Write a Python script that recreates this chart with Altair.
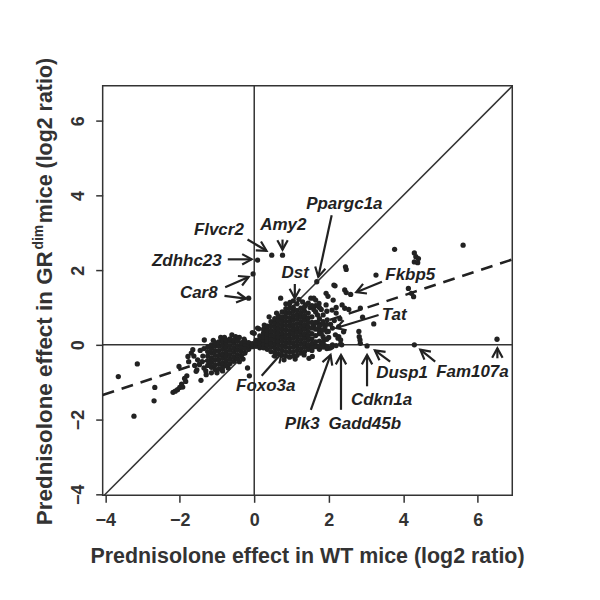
import math
import altair as alt
import pandas as pd

# ---------------- data ----------------
# far left / left-tail points (WT effect, GRdim effect)
left_far = [(-3.65, -0.85), (-3.14, -0.51), (-3.23, -1.91), (-2.67, -1.14), (-2.69, -1.5),
            (-2.02, -0.58), (-2.18, -1.27), (-2.12, -1.24), (-2.06, -1.2), (-2.0, -1.14),
            (-1.92, -1.13), (-1.84, -0.98), (-1.81, -0.83), (-1.87, -0.9), (-1.95, -1.05),
            (-1.78, -0.31), (-1.76, -0.45), (-1.69, -0.22), (-1.65, -0.13), (-1.6, -0.55),
            (-1.56, -0.71), (-1.54, -0.67), (-1.52, -0.4), (-1.47, -0.53), (-1.43, -0.95),
            (-1.45, -0.15), (-1.38, -0.3), (-1.35, -0.62), (-1.34, 0.13), (-1.29, -0.8),
            (-1.15, -0.75), (-0.9, 0.2), (-0.6, 0.27), (-0.4, 0.2), (-0.27, 0.15),
            (-0.18, -0.62), (-0.13, -0.83), (-1.1, 0.12), (-0.8, 0.2), (-0.5, 0.22),
            (-1.3, -0.7), (-1.0, -0.75), (-0.7, -0.62), (-0.4, -0.45), (-0.3, -0.38),
            (-1.4, -0.45), (-1.35, -0.1), (-1.62, -0.3), (-0.85, -0.7)]

# dense left cluster, column by column
left_blob_x = [-1.25, -1.15, -1.05, -0.95, -0.85, -0.75, -0.65, -0.55, -0.45, -0.35, -0.25, -0.15, -0.05]
left_blob_y = [
    [-0.55, -0.42, -0.3, -0.18, -0.06],
    [-0.6, -0.47, -0.35, -0.22, -0.1, 0.0],
    [-0.66, -0.53, -0.4, -0.28, -0.16, -0.04, 0.06],
    [-0.65, -0.52, -0.4, -0.28, -0.16, -0.04, 0.08],
    [-0.6, -0.48, -0.36, -0.24, -0.12, 0.0, 0.1],
    [-0.55, -0.43, -0.31, -0.19, -0.07, 0.05, 0.13],
    [-0.5, -0.38, -0.26, -0.14, -0.02, 0.1, 0.16],
    [-0.44, -0.32, -0.2, -0.08, 0.04, 0.13],
    [-0.38, -0.26, -0.14, -0.02, 0.1],
    [-0.3, -0.18, -0.06, 0.06],
    [-0.22, -0.1, 0.02, 0.1],
    [-0.12, -0.02, 0.06],
    [-0.05, 0.03],
]

# points along zero around the origin
near_zero = [(-0.3, 0.0), (-0.2, 0.0), (-0.1, 0.02), (0.0, 0.0), (0.1, 0.0), (0.2, -0.02),
             (0.3, 0.0), (0.4, 0.02), (0.05, 0.1), (0.15, -0.08), (0.0, 0.31), (0.12, 0.43),
             (0.27, 0.53), (0.09, 0.45), (-0.05, 0.33)]

# dense right cluster, column by column
right_blob_x = [0.05, 0.15, 0.25, 0.35, 0.45, 0.55, 0.65, 0.75, 0.85, 0.95, 1.05, 1.15,
                1.25, 1.35, 1.45, 1.55, 1.65, 1.75, 1.85, 1.95]
right_blob_y = [
    [-0.04, 0.04, 0.12],
    [-0.05, 0.05, 0.15, 0.24],
    [-0.08, 0.02, 0.12, 0.22, 0.32, 0.42],
    [-0.12, 0.0, 0.1, 0.2, 0.3, 0.4, 0.5],
    [-0.18, -0.06, 0.05, 0.16, 0.27, 0.38, 0.5, 0.62],
    [-0.2, -0.08, 0.03, 0.14, 0.25, 0.36, 0.47, 0.58, 0.7],
    [-0.24, -0.12, 0.0, 0.11, 0.22, 0.33, 0.44, 0.55, 0.66, 0.78],
    [-0.28, -0.15, -0.03, 0.09, 0.2, 0.31, 0.42, 0.53, 0.64, 0.75, 0.88],
    [-0.3, -0.18, -0.06, 0.06, 0.17, 0.28, 0.4, 0.52, 0.63, 0.74, 0.85, 0.97],
    [-0.33, -0.2, -0.08, 0.04, 0.15, 0.27, 0.38, 0.5, 0.62, 0.73, 0.85, 0.98, 1.1],
    [-0.3, -0.18, -0.06, 0.06, 0.18, 0.3, 0.42, 0.54, 0.66, 0.78, 0.9, 1.0],
    [-0.28, -0.15, -0.03, 0.09, 0.21, 0.33, 0.45, 0.57, 0.69, 0.8, 0.92],
    [-0.22, -0.1, 0.02, 0.14, 0.26, 0.38, 0.5, 0.62, 0.74, 0.86, 0.98],
    [-0.18, -0.06, 0.06, 0.18, 0.3, 0.42, 0.54, 0.66, 0.78, 0.9, 1.02],
    [-0.12, 0.0, 0.12, 0.24, 0.36, 0.48, 0.6, 0.72, 0.85],
    [-0.08, 0.04, 0.16, 0.3, 0.45, 0.6, 0.75, 1.05],
    [-0.05, 0.08, 0.25, 0.42, 0.6, 0.88],
    [-0.04, 0.1, 0.3, 0.5, 0.7, 1.0],
    [-0.06, 0.05, 0.22, 0.4, 0.62, 0.8],
    [-0.05, 0.15, 0.35, 0.55, 0.9],
]

# scattered points on the right and the labelled genes
right_sparse = [(1.65, 1.2), (1.74, 1.11), (1.52, 1.25), (1.93, 1.38), (1.98, 1.3), (2.14, 1.6),
                (1.93, 1.07), (2.09, 0.93), (2.2, 0.85), (2.36, 1.07), (2.43, 0.98), (2.54, 0.95),
                (1.96, 0.67), (2.05, 0.55), (2.27, 0.49), (1.99, 0.36), (2.18, 0.27), (2.25, 0.18),
                (1.87, 0.13), (1.93, -0.04), (2.32, 0.02), (2.27, 0.22), (2.32, 0.13), (2.35, 0.0),
                (2.85, 0.98), (2.91, 0.74), (3.21, 0.56), (2.81, 0.36), (2.82, 0.22), (2.84, 0.13),
                (2.85, 0.04), (3.03, -0.03), (4.3, 0.0), (6.52, 0.15), (2.43, 1.47), (2.47, 1.4),
                (2.59, 1.35), (2.17, 1.58), (3.27, 1.87), (4.14, 1.51), (4.22, 1.38), (4.28, 1.29),
                (2.45, 2.09), (2.47, 2.02), (3.77, 2.56), (5.61, 2.67), (4.3, 2.46), (4.34, 2.36),
                (4.41, 2.31), (4.3, 2.22), (4.39, 2.2), (0.71, 1.25), (0.96, 1.14), (1.68, 1.69),
                (0.09, 2.27), (0.47, 2.4), (0.76, 2.4), (-0.03, 1.9), (-0.15, 1.25), (1.34, -0.27),
                (1.47, -0.36), (1.56, -0.31), (2.0, -0.09), (2.09, -0.05), (1.6, 1.25), (1.38, 1.07),
                (2.3, 0.7), (1.8, 0.95), (1.7, 0.8), (1.85, 0.55), (1.75, 0.4), (1.5, -0.05),
                (1.6, 0.0), (1.7, -0.04), (1.8, 0.0), (1.9, -0.03), (2.1, 0.0), (2.2, -0.02),
                (1.55, -0.15), (1.75, -0.12), (1.95, -0.1), (2.05, -0.08),
                (1.5, 1.0), (1.6, 0.95), (1.65, 1.05), (1.7, 0.6), (1.8, 0.3), (1.9, 0.45),
                (2.0, 0.2), (2.1, 0.45), (2.15, 0.65), (1.6, 0.5), (2.2, 1.0), (1.45, 1.12),
                (1.3, 1.15), (1.15, 1.1), (1.2, 1.22), (0.85, 1.1), (1.05, 1.18), (0.6, 0.85),
                (0.4, 0.75), (0.8, -0.4), (1.1, -0.38), (0.55, -0.3), (2.4, 0.35), (2.12, 1.2)]

# gene labels: name, x, y
gene_names = ["Flvcr2", "Amy2", "Ppargc1a", "Zdhhc23", "Car8", "Dst", "Fkbp5", "Tat",
              "Foxo3a", "Plk3", "Gadd45b", "Cdkn1a", "Dusp1", "Fam107a"]
gene_lx = [-0.95, 0.78, 2.42, -1.81, -1.49, 1.1, 4.19, 3.76, 0.31, 1.29, 2.97, 3.42, 3.97, 5.86]
gene_ly = [3.07, 3.2, 3.78, 2.25, 1.38, 1.93, 1.87, 0.8, -1.11, -2.12, -2.13, -1.48, -0.75, -0.73]

# arrows: start x, start y, tip x, tip y
arrow_x0 = [-0.18, 0.76, 2.08, -0.71, -0.78, -0.8, 1.09, 3.43, 3.34, 0.2, 1.52, 2.33, 3.03, 3.65, 4.86, 6.53]
arrow_y0 = [2.82, 2.82, 3.47, 2.29, 1.54, 1.31, 1.63, 1.69, 0.8, -0.83, -1.74, -1.74, -1.11, -0.45, -0.45, -0.36]
arrow_x1 = [0.33, 0.76, 1.72, -0.07, -0.15, -0.22, 1.09, 2.74, 2.2, 0.74, 2.05, 2.33, 3.03, 3.24, 4.46, 6.53]
arrow_y1 = [2.52, 2.55, 1.82, 2.29, 1.82, 1.24, 1.25, 1.41, 0.45, -0.22, -0.27, -0.27, -0.27, -0.15, -0.13, -0.09]

# fitted (dashed) line y = slope * x + intercept
fit_slope = 0.33
fit_intercept = 0.0

x_ticks = [-4, -2, 0, 2, 4, 6]
y_ticks = [-4, -2, 0, 2, 4, 6]
X_DOM = [-4.07, 6.93]
Y_DOM = [-4.03, 6.94]

# ---------------- build tables ----------------
px, py = [], []
for x, y in left_far + near_zero + right_sparse:
    px.append(x); py.append(y)
for x, ys_ in zip(left_blob_x, left_blob_y):
    for y in ys_:
        px.append(x); py.append(y)
for x, ys_ in zip(right_blob_x, right_blob_y):
    for y in ys_:
        px.append(x); py.append(y)
points = pd.DataFrame({"wt": px, "grdim": py})

INK = "#222222"
AX = "#333333"
FONT = "Liberation Sans"

xs = alt.Scale(domain=X_DOM, nice=False, zero=False)
ys = alt.Scale(domain=Y_DOM, nice=False, zero=False)

x_axis = alt.Axis(values=x_ticks, title=None, domain=False, grid=False, tickSize=7,
                  tickWidth=1.5, tickColor=AX, labelFont=FONT, labelFontSize=18,
                  labelFontWeight="bold", labelColor=AX, labelPadding=9)
y_axis = alt.Axis(values=y_ticks, title=None, domain=False, grid=False, tickSize=7,
                  tickWidth=1.5, tickColor=AX, labelFont=FONT, labelFontSize=18,
                  labelFontWeight="bold", labelColor=AX, labelPadding=8,
                  labelAngle=270, labelAlign="center", labelBaseline="bottom")

diag = pd.DataFrame({"x": X_DOM, "y": X_DOM})
fit = pd.DataFrame({"x": X_DOM, "y": [fit_slope * v + fit_intercept for v in X_DOM]})

diag_line = alt.Chart(diag).mark_line(color=AX, strokeWidth=1.5, clip=True).encode(
    x=alt.X("x:Q", scale=xs, axis=x_axis), y=alt.Y("y:Q", scale=ys, axis=y_axis))
fit_line = alt.Chart(fit).mark_line(color=INK, strokeWidth=2.5, strokeDash=[12, 8], clip=True).encode(
    x=alt.X("x:Q", scale=xs), y=alt.Y("y:Q", scale=ys))
vzero = alt.Chart(pd.DataFrame({"x": [0]})).mark_rule(color=AX, strokeWidth=1.5).encode(
    x=alt.X("x:Q", scale=xs))
hzero = alt.Chart(pd.DataFrame({"y": [0]})).mark_rule(color=AX, strokeWidth=1.5).encode(
    y=alt.Y("y:Q", scale=ys))

dots = alt.Chart(points).mark_circle(size=28, color=INK, opacity=1).encode(
    x=alt.X("wt:Q", scale=xs), y=alt.Y("grdim:Q", scale=ys))

arrows = pd.DataFrame({"x0": arrow_x0, "y0": arrow_y0, "x1": arrow_x1, "y1": arrow_y1})
arrows["ang"] = [(math.degrees(math.atan2(a1 - a0, b1 - b0)) + 360) % 360
                 for a0, b0, a1, b1 in zip(arrow_x0, arrow_y0, arrow_x1, arrow_y1)]

shafts = alt.Chart(arrows).mark_rule(color=INK, strokeWidth=2.2).encode(
    x=alt.X("x0:Q", scale=xs), y=alt.Y("y0:Q", scale=ys), x2="x1:Q", y2="y1:Q")
heads = alt.Chart(arrows).mark_point(shape="M -0.55 1 L 0 0 L 0.55 1", filled=False,
                                     stroke=INK, strokeWidth=2.2, size=360, opacity=1).encode(
    x=alt.X("x1:Q", scale=xs), y=alt.Y("y1:Q", scale=ys), angle=alt.Angle("ang:Q", scale=None))

labels = alt.Chart(pd.DataFrame({"g": gene_names, "x": gene_lx, "y": gene_ly})).mark_text(
    font=FONT, fontSize=17, fontWeight="bold", fontStyle="italic", color=INK,
    align="center", baseline="middle").encode(
    x=alt.X("x:Q", scale=xs), y=alt.Y("y:Q", scale=ys), text="g:N")

# axis titles (y title has a superscript)
x_title = alt.Chart(pd.DataFrame({"t": ["Prednisolone effect in WT mice (log2 ratio)"]})).mark_text(
    font=FONT, fontSize=21.5, fontWeight="bold", color=AX, align="center", baseline="alphabetic").encode(
    x=alt.value(205.5), y=alt.value(479), text="t:N")
y_t1 = alt.Chart(pd.DataFrame({"t": ["Prednisolone effect in GR"]})).mark_text(
    font=FONT, fontSize=22.5, fontWeight="bold", color=AX, align="center", baseline="alphabetic", angle=270).encode(
    x=alt.value(-51), y=alt.value(303.5), text="t:N")
y_t2 = alt.Chart(pd.DataFrame({"t": ["dim"]})).mark_text(
    font=FONT, fontSize=14, fontWeight="bold", color=AX, align="center", baseline="alphabetic", angle=270).encode(
    x=alt.value(-60), y=alt.value(152), text="t:N")
y_t3 = alt.Chart(pd.DataFrame({"t": ["mice (log2 ratio)"]})).mark_text(
    font=FONT, fontSize=21.5, fontWeight="bold", color=AX, align="center", baseline="alphabetic", angle=270).encode(
    x=alt.value(-51), y=alt.value(55), text="t:N")

chart = alt.layer(
    diag_line, fit_line, vzero, hzero, dots, shafts, heads, labels, x_title, y_t1, y_t2, y_t3
).properties(
    width=411, height=411,
    autosize=alt.AutoSizeParams(type="none"),
    padding={"left": 95, "top": 77, "right": 80, "bottom": 90},
).configure_view(stroke=AX, strokeWidth=1.5)

chart.save("out.html", embed_options={"renderer": "svg", "actions": False})
